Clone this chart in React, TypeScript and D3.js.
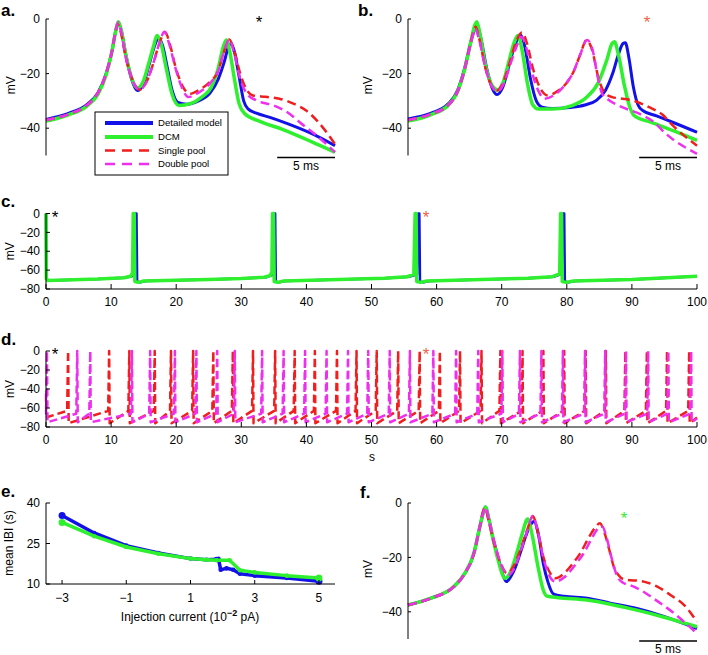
import React from 'react';
import * as d3 from 'd3';

type P = [number, number];

// ---------- Panel a (time ms, mV) ----------
const aDetailed: P[] = [[0,-36.8],[2,-34.5],[3.5,-31.5],[4.5,-27],[5.2,-20],[5.7,-12],[6.05,-4],[6.25,-1.2],[6.5,-4],[6.9,-13],[7.4,-22],[7.9,-26.2],[8.4,-24],[8.9,-17],[9.3,-11],[9.75,-7],[10.1,-10],[10.5,-18],[10.9,-26],[11.4,-30.5],[12.2,-31.2],[13.2,-30],[14.2,-27],[14.9,-22],[15.4,-16],[15.8,-10],[16.0,-9],[16.3,-12],[16.7,-21],[17.1,-30],[17.5,-33],[18.2,-34.5],[19.5,-36.2],[21,-38.5],[23,-42],[25,-46.4]];
const aDCM: P[] = [[0,-37.4],[2,-35],[3.5,-32],[4.5,-27.5],[5.2,-20.5],[5.7,-12],[6.05,-4],[6.25,-1],[6.5,-4],[6.9,-13],[7.4,-21.5],[7.9,-25.3],[8.4,-23],[8.9,-16],[9.3,-10],[9.6,-6],[9.95,-9],[10.4,-18],[10.9,-27.5],[11.5,-31.7],[12.5,-31],[13.5,-28.5],[14.3,-25],[14.9,-18],[15.35,-10],[15.6,-7.7],[15.9,-12],[16.3,-22],[16.7,-31],[17.2,-34.7],[18.5,-37.5],[20.5,-40.5],[23,-45],[25,-48.8]];
const aSingle: P[] = [[0,-37],[2,-34.8],[3.5,-31.7],[4.5,-27],[5.2,-20],[5.7,-12],[6.0,-5],[6.2,-1.8],[6.45,-4.5],[6.9,-14],[7.5,-22.5],[8.1,-25.9],[8.7,-23],[9.3,-16],[9.8,-9],[10.3,-4.8],[10.7,-9],[11.2,-17.5],[11.8,-24.5],[12.45,-27.4],[13.3,-25.8],[14.2,-23],[14.9,-19],[15.4,-12],[15.85,-7.5],[16.3,-12],[16.8,-20],[17.3,-25.5],[17.9,-28],[19,-28.5],[20.2,-29.2],[21.4,-31],[22.5,-33.5],[23.5,-37.5],[25,-45.8]];
const aDouble: P[] = [[0,-37],[2,-34.8],[3.5,-31.7],[4.5,-27],[5.2,-20],[5.7,-12],[6.05,-4],[6.25,-1.2],[6.5,-4.5],[6.9,-14],[7.5,-22.5],[8.1,-26],[8.7,-23],[9.3,-16],[9.8,-9],[10.25,-4.7],[10.65,-9],[11.2,-18],[11.8,-25.5],[12.3,-28.6],[13.2,-27],[14.2,-23.5],[14.9,-19],[15.4,-12],[15.85,-7.5],[16.3,-13],[16.8,-22],[17.4,-27.5],[18.2,-29.8],[19.7,-31.7],[21,-34.5],[22,-38],[23.5,-43],[25,-48.8]];

// ---------- Panel b ----------
const bDetailed: P[] = [[0,-36.6],[2,-34.5],[3.5,-31],[4.3,-26],[4.9,-18],[5.4,-9],[5.8,-3.5],[6.0,-2.5],[6.3,-7],[6.8,-18],[7.3,-25.5],[7.7,-27.7],[8.2,-25],[8.8,-16],[9.3,-9],[9.75,-5.9],[10.1,-10],[10.6,-22],[11.1,-30],[11.6,-32.3],[12.5,-32.8],[14,-32.4],[15.3,-31.5],[16.3,-29.8],[17.1,-26],[17.7,-20],[18.2,-13],[18.6,-9],[18.8,-8.7],[19.1,-14],[19.5,-25],[19.9,-31.5],[20.3,-33.5],[21.5,-35.5],[23,-38],[25,-41.5]];
const bDCM: P[] = [[0,-37.4],[2,-35],[3.5,-31.5],[4.3,-26.5],[4.9,-18.5],[5.4,-9],[5.8,-2],[5.95,-1],[6.2,-5],[6.7,-17],[7.3,-24.5],[7.75,-26],[8.2,-23.5],[8.7,-16],[9.15,-9],[9.5,-6],[9.85,-11],[10.35,-24],[10.8,-31.5],[11.3,-33],[12.5,-33],[14.2,-31.7],[15.5,-28.5],[16.5,-23],[17.2,-15],[17.65,-9],[17.85,-8.3],[18.2,-13],[18.7,-24],[19.2,-32.5],[19.6,-35.5],[21,-37.8],[23,-41],[25,-44.5]];
const bSingle: P[] = [[0,-37],[2,-34.8],[3.5,-31.5],[4.3,-26.5],[4.9,-18.5],[5.4,-9],[5.75,-3.5],[5.85,-2.8],[6.15,-7],[6.7,-18],[7.3,-25],[7.7,-26.2],[8.2,-23.5],[8.8,-16],[9.3,-9],[9.85,-4.9],[10.3,-9],[10.8,-18],[11.4,-25],[12.1,-28],[12.9,-26.5],[13.7,-23.5],[14.3,-19.5],[14.9,-13],[15.45,-7.7],[15.9,-11],[16.5,-22],[17,-27],[17.65,-28.6],[18.6,-29.2],[19.4,-29.8],[20.85,-32.3],[22,-35],[22.9,-39],[25,-46.4]];
const bDouble: P[] = [[0,-37],[2,-34.8],[3.5,-31.5],[4.3,-26.5],[4.9,-18.5],[5.4,-9.5],[5.75,-4],[5.8,-3.5],[6.15,-7.5],[6.7,-18],[7.3,-25],[7.75,-26.5],[8.3,-23.5],[8.9,-16],[9.4,-10],[9.8,-6.5],[10.2,-10],[10.7,-19],[11.3,-26.5],[11.8,-29.2],[12.6,-28],[13.6,-24],[14.3,-19.5],[14.9,-13],[15.5,-7.7],[15.95,-11],[16.4,-21],[16.8,-27.4],[17.5,-30],[18.2,-31.7],[20,-34.7],[21.2,-37.5],[22.3,-42],[25,-49.4]];

// ---------- Panel f ----------
const fDetailed: P[] = [[0,-37.5],[2,-35],[3.95,-30.8],[4.9,-26],[5.7,-18.5],[6.2,-9],[6.55,-3],[6.7,-1.5],[7.0,-6],[7.35,-13],[7.7,-18.5],[8.1,-25],[8.5,-28.9],[8.9,-27],[9.3,-23.5],[9.7,-18.5],[10.2,-12],[10.6,-8],[10.9,-6.8],[11.3,-12],[11.7,-22.2],[12.1,-29],[12.6,-33.5],[13.5,-34.3],[15.5,-35],[17.5,-36.8],[19.8,-38.8],[22,-41.5],[25,-46.2]];
const fDCM: P[] = [[0,-37.5],[2,-35],[3.95,-30.8],[4.9,-26],[5.7,-18.5],[6.2,-9],[6.55,-3],[6.7,-1.5],[7.0,-6],[7.35,-13],[7.8,-21],[8.4,-27.7],[8.9,-25],[9.4,-18.5],[9.9,-11],[10.35,-5.9],[10.7,-11],[11.3,-24.6],[11.7,-32],[12.0,-34.2],[13,-34.8],[15.5,-35.7],[17.5,-37.2],[19.8,-39.4],[22,-41.8],[25,-45.5]];
const fSingle: P[] = [[0,-37.5],[2,-35],[3.95,-30.8],[4.9,-26],[5.7,-18.5],[6.2,-9],[6.5,-3],[6.65,-1.8],[6.95,-6],[7.4,-14],[8.0,-22],[8.55,-25.8],[9.1,-23.5],[9.7,-17.5],[10.3,-10],[10.8,-4.9],[11.2,-10],[11.7,-19.7],[12.2,-25],[12.75,-27.7],[13.6,-25.5],[14.3,-22],[14.9,-18.5],[15.6,-13],[16.2,-9],[16.6,-7.4],[17,-11],[17.4,-17],[17.8,-23.4],[18.2,-26.5],[18.65,-28],[20.4,-28.9],[21.6,-30.8],[22.7,-33.8],[24,-38],[25,-43.7]];
const fDouble: P[] = [[0,-37.5],[2,-35],[3.95,-30.8],[4.9,-26],[5.7,-18.5],[6.2,-9],[6.55,-3],[6.7,-1.5],[7.0,-6],[7.45,-14],[8.0,-22],[8.7,-26.5],[9.2,-24],[9.8,-17],[10.35,-10],[10.8,-4.7],[11.2,-10],[11.7,-20],[12.2,-26.5],[12.75,-28.9],[13.6,-27],[14.5,-22.5],[15.2,-18.5],[15.9,-13],[16.4,-9.5],[16.8,-8.6],[17.2,-13],[17.6,-20],[18.1,-27],[18.6,-29.3],[19.2,-30.2],[20.2,-32.2],[21.2,-35],[23,-40.5],[25,-48]];

// ---------- Panel c (time s, mV) ----------
const cDCM: P[] = [[0,0],[0.05,-69],[0.3,-71],[3,-70.5],[8,-69.5],[12,-68],[13,-66.5],[13.3,-63],[13.4,0],[13.55,0],[13.65,-72],[14.2,-73],[15,-71.5],[20,-70.8],[25,-70],[30,-69],[33.5,-67.5],[34.4,-66],[34.7,-62],[34.8,0],[34.95,0],[35.05,-72],[35.6,-73],[36.5,-71.5],[45,-70],[52,-68.5],[55.5,-67],[56.5,-64.5],[56.7,0],[56.85,0],[56.95,-72],[57.5,-73],[58.5,-71.5],[67,-70],[74,-68.5],[77.8,-67],[78.9,-64],[79.05,0],[79.2,0],[79.3,-72],[79.9,-73],[81,-71.5],[90,-70],[100,-66.5]];
const cDetailed: P[] = [[0,0],[0.05,-69],[0.3,-71],[3,-70.5],[8,-69.5],[12,-68],[13.2,-66.5],[13.6,-63],[13.75,0],[13.9,0],[14.0,-72],[14.5,-73],[15.3,-71.5],[20,-70.8],[25,-70],[30,-69],[33.8,-67.5],[34.8,-65],[35.05,0],[35.2,0],[35.3,-72],[35.8,-73],[36.7,-71.5],[45,-70],[52,-68.5],[55.8,-67],[57,-64.5],[57.2,0],[57.35,0],[57.45,-72],[58,-73],[59,-71.5],[67,-70],[74,-68.5],[78,-67],[79.2,-64],[79.45,0],[79.6,0],[79.7,-72],[80.3,-73],[81.3,-71.5],[90,-70],[100,-66.5]];

// ---------- Panel d (spike times, s) ----------
const dSingleSpikes = [3.4, 9.7, 12.8, 16.7, 19.2, 22.6, 25.7, 28.7, 31.8, 35.2, 38.2, 41.3, 44.7, 47.7, 50.8, 54.1, 57.4, 60.5, 63.6, 66.9, 69.8, 73.2, 76.4, 79.6, 82.9, 86.0, 89.0, 92.3, 95.4, 98.8];
const dDoubleSpikes = [0.15, 4.8, 6.8, 13.2, 16.0, 19.8, 23.1, 26.3, 29.0, 33.2, 36.5, 39.8, 43.1, 46.4, 49.5, 52.8, 55.9, 59.5, 63.0, 66.4, 70.1, 72.8, 76.1, 79.4, 82.8, 85.9, 89.1, 92.5, 95.6, 99.1];
const dSingleLevels = { start: -70, trough: -76, pre: -63, end: -70 };
const dDoubleLevels = { start: -45, trough: -75, pre: -66, end: -71 };

// ---------- Panel e ----------
const eDetailed: P[] = [[-3,35.4],[-2,28.9],[-1,24.2],[0,21.5],[1,19.4],[1.5,19.0],[1.8,19.2],[1.87,19.3],[1.94,15.3],[2.12,15.8],[2.33,15.3],[2.54,13.8],[3,13.1],[4,12.2],[5,11.0]];
const eDCM: P[] = [[-3,32.8],[-2,27.7],[-1,23.7],[0,21.2],[1,19.4],[1.5,19.0],[1.81,18.8],[2.22,18.8],[2.54,15.1],[3,14.3],[4,13.1],[5,12.2]];

const legendLabels = ['Detailed model', 'DCM', 'Single pool', 'Double pool'];
const traceTicks = [-40, -20, 0];
const longTicksY = [-80, -60, -40, -20, 0];
const longTicksX = [0, 10, 20, 30, 40, 50, 60, 70, 80, 90, 100];
const eTicksX = [-3, -1, 1, 3, 5];
const eTicksY = [10, 25, 40];

const FONT = "'Liberation Sans', Arial, Helvetica, sans-serif";
const BLUE = '#1212e8';
const GREEN = '#2ef02e';
const RED = '#f01e1e';
const MAG = '#ee30ee';
const ORANGE = '#f2603f';
const DASH = '9,5';

const fmt = (d: number) => (d < 0 ? '\u2212' + Math.abs(d) : String(d));

function spikeTrain(spikes: number[], lv: { start: number; trough: number; pre: number; end: number }): P[] {
  const pts: P[] = [[0, lv.start]];
  spikes.forEach((s) => {
    pts.push([Math.max(0.02, s - 0.15), lv.pre]);
    pts.push([s, 0]);
    pts.push([s + 0.08, lv.trough]);
  });
  pts.push([100, lv.end]);
  return pts;
}

function TracePanel({ x0, yTop, yBot, series, label, lx, ly, mvX, star }: any) {
  const xs = d3.scaleLinear().domain([0, 25]).range([x0, x0 + 289]);
  const ys = d3.scaleLinear().domain([-50, 0]).range([yBot, yTop]);
  const line = d3.line<P>().x((d) => xs(d[0])).y((d) => ys(d[1])).curve(d3.curveMonotoneX);
  return (
    <g>
      <text x={lx} y={ly} fontSize={17} fontWeight="bold" fontFamily={FONT}>{label}</text>
      {series.map((s: any, i: number) => (
        <path key={i} d={line(s.data) || ''} fill="none" stroke={s.color} strokeWidth={s.w}
          strokeDasharray={s.dash || undefined} strokeLinejoin="round" />
      ))}
      <line x1={x0} x2={x0} y1={ys(0)} y2={ys(-50)} stroke="#000" strokeWidth={1} />
      {traceTicks.map((t) => (
        <g key={t}>
          <line x1={x0} x2={x0 + 3} y1={ys(t)} y2={ys(t)} stroke="#000" />
          <text x={x0 - 6} y={ys(t)} dy="0.35em" textAnchor="end" fontSize={12} fontFamily={FONT}>{fmt(t)}</text>
        </g>
      ))}
      <text transform={`translate(${mvX},${(ys(0) + ys(-50)) / 2 - 2}) rotate(-90)`} textAnchor="middle" fontSize={12} fontFamily={FONT}>mV</text>
      <line x1={xs(20)} x2={xs(25)} y1={yBot + 2} y2={yBot + 2} stroke="#000" strokeWidth={1.5} />
      <text x={(xs(20) + xs(25)) / 2} y={yBot + 14} textAnchor="middle" fontSize={12} fontFamily={FONT}>5 ms</text>
      <text x={star.x} y={star.y + 9} textAnchor="middle" fontSize={17} fill={star.color} fontFamily={FONT}>*</text>
    </g>
  );
}

function LongPanel({ yTop, yBot, series, label, ly, stars }: any) {
  const xs = d3.scaleLinear().domain([0, 100]).range([46, 697]);
  const ys = d3.scaleLinear().domain([-80, 0]).range([yBot, yTop]);
  const line = d3.line<P>().x((d) => xs(d[0])).y((d) => ys(d[1]));
  return (
    <g>
      <text x={1} y={ly} fontSize={17} fontWeight="bold" fontFamily={FONT}>{label}</text>
      {series.map((s: any, i: number) => (
        <path key={i} d={line(s.data) || ''} fill="none" stroke={s.color} strokeWidth={s.w}
          strokeDasharray={s.dash || undefined} strokeLinejoin="round" />
      ))}
      <line x1={46} x2={46} y1={yTop} y2={yBot} stroke="#000" />
      <line x1={46} x2={697} y1={yBot} y2={yBot} stroke="#000" />
      {longTicksY.map((t) => (
        <g key={t}>
          <line x1={46} x2={50} y1={ys(t)} y2={ys(t)} stroke="#000" />
          <text x={40} y={ys(t)} dy="0.35em" textAnchor="end" fontSize={12} fontFamily={FONT}>{fmt(t)}</text>
        </g>
      ))}
      {longTicksX.map((t) => (
        <g key={t}>
          <line x1={xs(t)} x2={xs(t)} y1={yBot} y2={yBot - 5} stroke="#000" />
          <text x={xs(t)} y={yBot + 17} textAnchor="middle" fontSize={12} fontFamily={FONT}>{t}</text>
        </g>
      ))}
      <text transform={`translate(14,${(yTop + yBot) / 2}) rotate(-90)`} textAnchor="middle" fontSize={12} fontFamily={FONT}>mV</text>
      {stars.map((s: any, i: number) => (
        <text key={i} x={xs(s.t)} y={yTop + 9} textAnchor="middle" fontSize={17} fill={s.color} fontFamily={FONT}>*</text>
      ))}
    </g>
  );
}

function PanelE() {
  const xs = d3.scaleLinear().domain([-3.5, 5.5]).range([46, 335]);
  const ys = d3.scaleLinear().domain([10, 40]).range([584, 503]);
  const line = d3.line<P>().x((d) => xs(d[0])).y((d) => ys(d[1]));
  const sets = [{ data: eDetailed, color: BLUE }, { data: eDCM, color: GREEN }];
  return (
    <g>
      <text x={1} y={497} fontSize={17} fontWeight="bold" fontFamily={FONT}>e.</text>
      {sets.map((s, i) => (
        <g key={i}>
          <path d={line(s.data) || ''} fill="none" stroke={s.color} strokeWidth={3.5} strokeLinejoin="round" />
          {s.data.map((d, j) => (
            <circle key={j} cx={xs(d[0])} cy={ys(d[1])} r={j === 0 || j === s.data.length - 1 ? 3.5 : 2.3} fill={s.color} />
          ))}
        </g>
      ))}
      <line x1={46} x2={46} y1={503} y2={584} stroke="#000" />
      <line x1={46} x2={335} y1={584} y2={584} stroke="#000" />
      {eTicksY.map((t) => (
        <g key={t}>
          <line x1={46} x2={50} y1={ys(t)} y2={ys(t)} stroke="#000" />
          <text x={40} y={ys(t)} dy="0.35em" textAnchor="end" fontSize={12} fontFamily={FONT}>{t}</text>
        </g>
      ))}
      {eTicksX.map((t) => (
        <g key={t}>
          <line x1={xs(t)} x2={xs(t)} y1={584} y2={580} stroke="#000" />
          <text x={xs(t)} y={602} textAnchor="middle" fontSize={12} fontFamily={FONT}>{fmt(t)}</text>
        </g>
      ))}
      <text x={190} y={621} textAnchor="middle" fontSize={12} fontFamily={FONT}>
        Injection current (10<tspan dy={-5} fontSize={9} fontWeight="bold">{'\u2212'}2</tspan><tspan dy={5}> pA)</tspan>
      </text>
      <text transform="translate(13,543) rotate(-90)" textAnchor="middle" fontSize={12} fontFamily={FONT}>mean IBI (s)</text>
    </g>
  );
}

function Legend() {
  const colors = [BLUE, GREEN, RED, MAG];
  const ys = [123, 137, 150.5, 164];
  return (
    <g>
      <rect x={95} y={112} width={133} height={63} fill="#fff" stroke="#000" strokeWidth={1} />
      {legendLabels.map((l, i) => (
        <g key={l}>
          <line x1={105} x2={153} y1={ys[i]} y2={ys[i]} stroke={colors[i]} strokeWidth={i < 2 ? 4 : 2.5}
            strokeDasharray={i < 2 ? undefined : '10,7'} />
          <text x={158} y={ys[i]} dy="0.35em" fontSize={9.6} fontFamily={FONT}>{l}</text>
        </g>
      ))}
    </g>
  );
}

export default function App() {
  const mk = (det: P[], dcm: P[], sp: P[], dp: P[]) => [
    { data: det, color: BLUE, w: 3 },
    { data: dcm, color: GREEN, w: 3.5 },
    { data: sp, color: RED, w: 2.5, dash: DASH },
    { data: dp, color: MAG, w: 2.5, dash: DASH },
  ];
  const dSingle = spikeTrain(dSingleSpikes, dSingleLevels);
  const dDouble = spikeTrain(dDoubleSpikes, dDoubleLevels);
  return (
    <svg width={708} height={655} style={{ position: 'absolute', left: 0, top: 0, background: '#fff' }}>
      <TracePanel x0={46} yTop={19} yBot={155.5} series={mk(aDetailed, aDCM, aSingle, aDouble)}
        label="a." lx={1} ly={16} mvX={15} star={{ x: 259, y: 19, color: '#000' }} />
      <Legend />
      <TracePanel x0={408} yTop={19} yBot={155.5} series={mk(bDetailed, bDCM, bSingle, bDouble)}
        label="b." lx={358} ly={16} mvX={372} star={{ x: 647, y: 19, color: ORANGE }} />
      <LongPanel yTop={213.5} yBot={289} label="c." ly={207}
        series={[{ data: cDetailed, color: BLUE, w: 2.5 }, { data: cDCM, color: GREEN, w: 3.5 }]}
        stars={[{ t: 1.4, color: '#000' }, { t: 58.4, color: ORANGE }]} />
      <LongPanel yTop={351} yBot={427} label="d." ly={345}
        series={[{ data: dSingle, color: RED, w: 2.5, dash: '8,4' }, { data: dDouble, color: MAG, w: 2.5, dash: '8,4' }]}
        stars={[{ t: 1.4, color: '#000' }, { t: 58.4, color: ORANGE }]} />
      <text x={372} y={461} textAnchor="middle" fontSize={12} fontFamily={FONT}>s</text>
      <PanelE />
      <TracePanel x0={408} yTop={503} yBot={639} series={mk(fDetailed, fDCM, fSingle, fDouble)}
        label="f." lx={360} ly={498} mvX={372} star={{ x: 624, y: 515, color: GREEN }} />
    </svg>
  );
}
